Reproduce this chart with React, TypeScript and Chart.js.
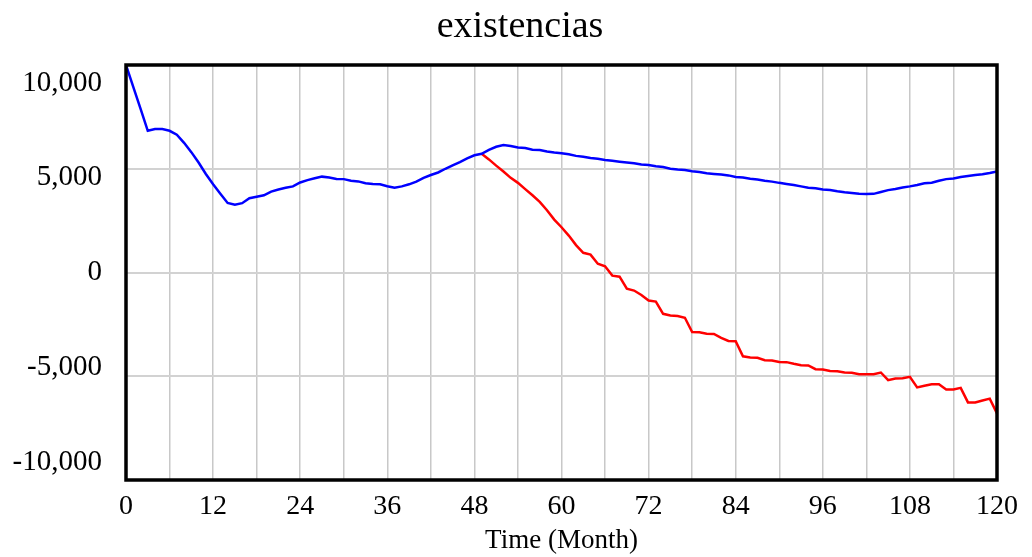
import React, { useEffect, useRef } from "react";
import { Chart, registerables } from "chart.js";
Chart.register(...registerables);

const chartTitle = "existencias";
const xTitle = "Time (Month)";
const months: number[] = Array.from({ length: 121 }, (_, i) => i);
const blueValues: number[] = [
  10000, 8950, 7900, 6830, 6910, 6910, 6830, 6640, 6250, 5800,
  5300, 4750, 4250, 3800, 3350, 3270, 3340, 3580, 3650, 3720,
  3900, 4000, 4080, 4150, 4340, 4450, 4540, 4620, 4580, 4510,
  4500, 4420, 4390, 4300, 4260, 4250, 4160, 4080, 4150, 4250,
  4380, 4560, 4700, 4820, 5000, 5160, 5320, 5500, 5650, 5720,
  5910, 6060, 6140, 6100, 6020, 6000, 5920, 5900, 5830, 5780,
  5750, 5700, 5620, 5580, 5520, 5480, 5420, 5380, 5340, 5300,
  5260, 5200, 5180, 5120, 5080, 5000, 4960, 4940, 4880, 4840,
  4780, 4750, 4720, 4680, 4600, 4580, 4520, 4480, 4420, 4380,
  4320, 4270, 4220, 4150, 4080, 4060, 4000, 3980, 3920, 3870,
  3830, 3790, 3780, 3790, 3880, 3970, 4020, 4100, 4150, 4220,
  4300, 4330, 4420, 4500, 4530, 4600, 4650, 4700, 4740, 4800,
  4870,
];
const redStartMonth = 49;
const redValues: number[] = [
  5720, 5450, 5150, 4870, 4560, 4320, 4020, 3720, 3400, 3000,
  2550, 2180, 1780, 1320, 950, 860, 420, 300, -150, -200,
  -780, -870, -1080, -1350, -1400, -1990, -2070, -2100, -2180, -2870,
  -2880, -2950, -2960, -3150, -3300, -3310, -4040, -4100, -4110, -4230,
  -4240, -4310, -4320, -4400, -4470, -4480, -4660, -4680, -4750, -4760,
  -4820, -4830, -4900, -4900, -4900, -4820, -5190, -5110, -5100, -5030,
  -5540, -5460, -5390, -5390, -5640, -5640, -5560, -6260, -6260, -6170,
  -6080, -6790,
];
const yTicks: number[] = [10000, 5000, 0, -5000, -10000];
const yTickLabels: string[] = ["10,000", "5,000", "0", "-5,000", "-10,000"];
const xLabelEvery = 12;

const FONT = '"Liberation Serif", "Times New Roman", serif';

const framePlugin = {
  id: "frameAndLabels",
  afterDraw(chart: any) {
    const { ctx, chartArea: a, scales } = chart;
    ctx.save();
    ctx.strokeStyle = "#000";
    ctx.lineWidth = 3.5;
    ctx.strokeRect(a.left, a.top, a.right - a.left, a.bottom - a.top);
    ctx.fillStyle = "#000";
    ctx.font = `29px ${FONT}`;
    ctx.textAlign = "right";
    ctx.textBaseline = "middle";
    yTicks.forEach((v, i) => {
      const y = scales.y.getPixelForValue(v) + (v / 10000) * 18;
      ctx.fillText(yTickLabels[i], a.left - 24, y);
    });
    ctx.font = `38px ${FONT}`;
    ctx.textAlign = "center";
    ctx.textBaseline = "alphabetic";
    ctx.fillText(chartTitle, 520, 37);
    ctx.restore();
  },
};

export default function App() {
  const ref = useRef<HTMLCanvasElement | null>(null);
  useEffect(() => {
    if (!ref.current) return;
    const bluePts = months.map((m, i) => ({ x: m, y: blueValues[i] }));
    const redPts = redValues.map((v, i) => ({ x: redStartMonth + i, y: v }));
    const chart = new Chart(ref.current, {
      type: "line",
      data: {
        datasets: [
          { label: "blue", data: bluePts, borderColor: "#0000ff", borderWidth: 2.5, pointRadius: 0, tension: 0 },
          { label: "red", data: redPts, borderColor: "#ff0000", borderWidth: 2.5, pointRadius: 0, tension: 0 },
        ],
      },
      options: {
        animation: false,
        responsive: true,
        maintainAspectRatio: false,
        layout: { padding: { left: 0, right: 35, top: 65, bottom: 0 } },
        plugins: {
          legend: { display: false },
          tooltip: { enabled: false },
          title: { display: false },
        },
        scales: {
          x: {
            type: "linear",
            min: 0,
            max: 120,
            afterFit: (s: any) => { s.height = 77; },
            ticks: {
              stepSize: 6,
              autoSkip: false,
              maxRotation: 0,
              padding: 10,
              color: "#000",
              font: { family: FONT, size: 28 },
              callback: (v: any) => (Number(v) % xLabelEvery === 0 ? String(v) : ""),
            },
            grid: { color: "#c8c8c8", lineWidth: 1.5, drawTicks: false },
            border: { display: false },
            title: {
              display: true,
              text: xTitle,
              color: "#000",
              font: { family: FONT, size: 27 },
              padding: { top: 0, bottom: 0 },
            },
          },
          y: {
            min: -10000,
            max: 10000,
            afterFit: (s: any) => { s.width = 126; },
            ticks: { stepSize: 5000, display: false },
            grid: { color: "#d2d2d2", lineWidth: 2, drawTicks: false },
            border: { display: false },
          },
        },
      },
      plugins: [framePlugin],
    });
    return () => chart.destroy();
  }, []);
  return (
    <div style={{ position: "fixed", left: 0, top: 0, width: 1032, height: 557, background: "#fff" }}>
      <canvas ref={ref} />
    </div>
  );
}
